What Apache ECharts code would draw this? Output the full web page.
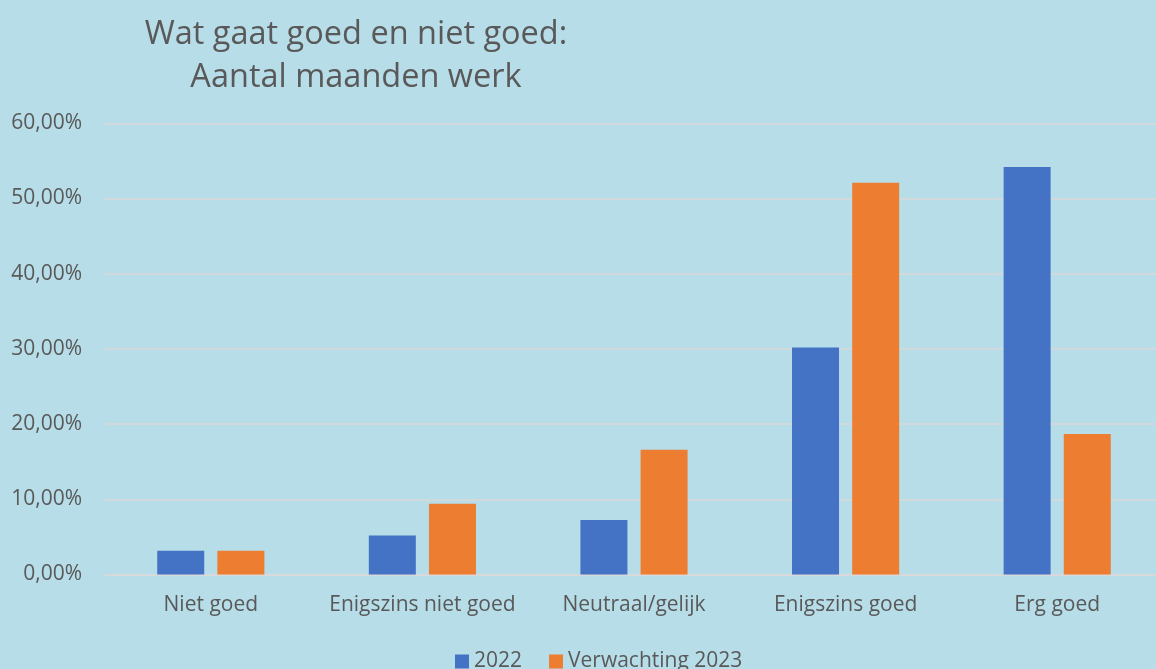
<!DOCTYPE html>
<html>
<head>
<meta charset="utf-8">
<script src="https://cdn.jsdelivr.net/npm/echarts@6/dist/echarts.min.js"></script>
<style>
  html, body { margin: 0; padding: 0; background: #b7dde8; }
  #chart { width: 1156px; height: 669px; }
</style>
</head>
<body>
<div id="chart"></div>
<script>
// categorieen en waarden (in %)
var categories = ['Niet goed', 'Enigszins niet goed', 'Neutraal/gelijk', 'Enigszins goed', 'Erg goed'];
var data2022 = [3.15, 5.17, 7.25, 30.2, 54.2];
var dataVerwachting2023 = [3.15, 9.4, 16.6, 52.1, 18.7];
var seriesNames = ['2022', 'Verwachting 2023'];

var textColor = '#595959';
var font = 'Open Sans';

var chart = echarts.init(document.getElementById('chart'));

var option = {
    backgroundColor: '#b7dde8',
    animation: false,
    title: {
        text: 'Wat gaat goed en niet goed:\nAantal maanden werk',
        left: 351,
        top: 8,
        textAlign: 'center',
        textStyle: {
            color: textColor,
            fontFamily: font,
            fontWeight: 'normal',
            fontSize: 32.5,
            lineHeight: 43
        }
    },
    legend: {
        data: seriesNames,
        left: 450,
        top: 646,
        itemWidth: 14,
        itemHeight: 14,
        itemGap: 27,
        icon: 'rect',
        textStyle: {
            color: textColor,
            fontFamily: font,
            fontSize: 21
        }
    },
    grid: {
        left: 105,
        top: 123.3,
        bottom: 94.5,
        width: 1058,
        containLabel: false,
        outerBoundsMode: 'none'
    },
    xAxis: {
        type: 'category',
        data: categories,
        axisLine: { lineStyle: { color: '#d9d9d9', width: 1.5 } },
        axisTick: { show: false },
        axisLabel: {
            interval: 0,
            color: textColor,
            fontFamily: font,
            fontSize: 21,
            margin: 20
        }
    },
    yAxis: {
        type: 'value',
        min: 0,
        max: 60,
        interval: 10,
        axisLine: { show: false },
        axisTick: { show: false },
        splitLine: { lineStyle: { color: '#d9d9d9', width: 1.5 } },
        axisLabel: {
            color: textColor,
            fontFamily: font,
            fontSize: 21,
            margin: 23,
            formatter: function (v) {
                return v.toFixed(2).replace('.', ',') + '%';
            }
        }
    },
    series: [
        {
            name: seriesNames[0],
            type: 'bar',
            barWidth: 47,
            barGap: '28%',
            itemStyle: { color: '#4472c4' },
            data: data2022
        },
        {
            name: seriesNames[1],
            type: 'bar',
            barWidth: 47,
            barGap: '28%',
            itemStyle: { color: '#ed7d31' },
            data: dataVerwachting2023
        }
    ]
};

chart.setOption(option);
</script>
</body>
</html>
